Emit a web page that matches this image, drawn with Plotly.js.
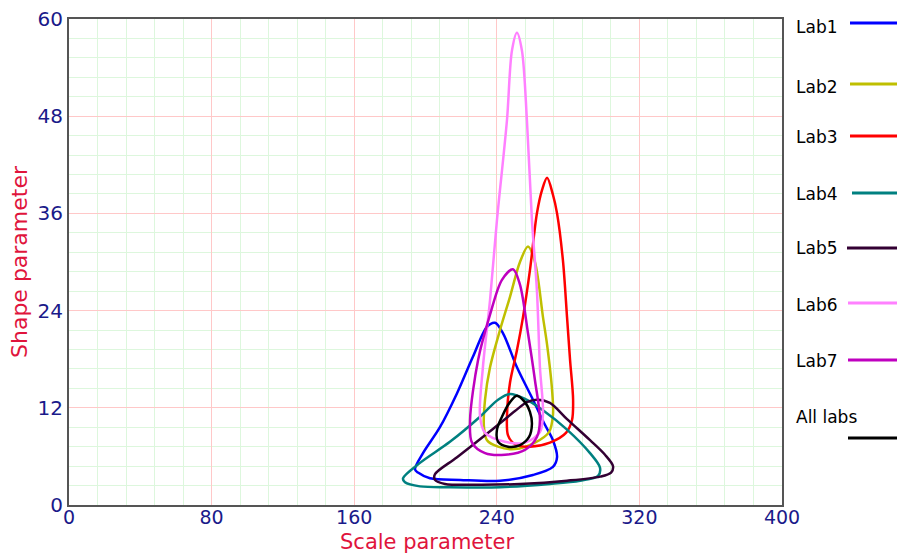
<!DOCTYPE html>
<html>
<head>
<meta charset="utf-8">
<script src="https://cdn.plot.ly/plotly-3.0.1.min.js"></script>
<style>html,body{margin:0;padding:0;background:#fff;}#chart{width:897px;height:556px;}</style>
</head>
<body>
<div id="chart"></div>
<script>
// Contour data (scale parameter, shape parameter)
const lab1X = [239.0,243.5,251.3,260.3,267.0,271.5,273.8,271.5,260.3,241.8,219.4,202.5,195.8,194.1,198.6,208.1,217.7,226.6,234.5];
const lab1Y = [22.5,21.2,17.0,13.0,9.9,8.0,5.9,4.7,3.7,3.0,3.1,3.3,4.0,4.4,6.4,9.6,13.8,18.3,22.0];

const lab2X = [257.5,261.4,265.9,268.2,271.0,271.5,269.3,261.4,250.2,240.7,234.5,232.8,233.4,236.2,241.8,247.4,253.0];
const lab2Y = [31.9,30.0,23.2,19.8,14.2,11.1,9.0,7.7,6.9,7.2,8.0,9.6,13.0,17.0,21.6,25.7,30.0];

const lab3X = [268.2,271.5,273.8,277.1,279.4,281.1,282.8,282.2,278.8,269.8,258.6,250.2,246.3,245.7,247.4,251.3,254.7,258.6,262.5,265.4];
const lab3Y = [40.4,38.3,36.0,30.2,23.2,17.9,13.0,10.5,8.9,7.7,7.2,7.5,8.6,10.9,15.1,19.1,23.2,29.0,36.0,38.9];

const lab4X = [247.4,255.8,265.9,279.4,292.3,297.9,296.8,286.7,269.8,241.8,213.7,196.9,188.5,187.4,196.9,213.7,230.6,240.7];
const lab4Y = [13.7,13.1,11.7,9.3,6.4,4.6,3.6,3.0,2.6,2.2,2.2,2.3,2.8,3.3,5.2,7.8,10.9,13.0];

const lab5X = [262.5,269.8,279.4,292.3,300.7,305.2,304.1,297.9,279.4,253.0,230.6,210.9,205.3,205.3,217.7,236.2,250.2,256.9];
const lab5Y = [13.0,12.6,10.6,8.0,6.2,4.8,4.0,3.5,3.0,2.6,2.5,2.6,3.1,3.8,5.9,9.1,11.6,12.7];

const lab6X = [251.3,254.1,256.9,259.7,262.5,264.2,265.9,264.2,255.8,244.6,233.4,230.6,232.2,236.2,240.1,245.7,248.5];
const lab6Y = [58.3,56.1,47.5,35.2,26.5,17.0,11.4,9.0,7.7,7.8,8.9,10.9,17.0,25.3,35.2,47.5,56.1];

const lab7X = [249.1,253.0,257.5,261.4,264.2,262.5,255.8,244.6,233.4,226.1,225.0,229.5,236.2,242.9];
const lab7Y = [29.1,27.2,21.2,15.4,10.5,8.4,6.8,6.2,6.4,7.7,10.5,17.9,23.5,27.8];

const allX = [251.3,255.8,258.6,259.7,258.1,253.0,246.3,240.7,240.1,242.9,247.4];
const allY = [13.5,12.7,11.5,10.0,8.4,7.4,7.2,7.8,9.3,10.9,12.7];

const seriesNames = ["Lab1","Lab2","Lab3","Lab4","Lab5","Lab6","Lab7","All labs"];
const seriesX = [lab1X,lab2X,lab3X,lab4X,lab5X,lab6X,lab7X,allX];
const seriesY = [lab1Y,lab2Y,lab3Y,lab4Y,lab5Y,lab6Y,lab7Y,allY];
const colors = ["#0000FF","#BFBF00","#FF0000","#008080","#330033","#FF80FF","#BF00BF","#000000"];

const xTicks = [0,80,160,240,320,400];
const yTicks = [0,12,24,36,48,60];
const xTitle = 'Scale parameter';
const yTitle = 'Shape parameter';

function close(a){ return a.concat([a[0]]); }

const traces = seriesNames.map((n,i)=>({
  x: close(seriesX[i]), y: close(seriesY[i]), name: n, type: 'scatter', mode: 'lines',
  line: {color: colors[i], width: 2.5, shape: 'spline', smoothing: 0.9},
  showlegend: false, hoverinfo: 'skip'
}));

// custom legend (paper coordinates)
const legTextY = [27,87,137,194,248,305,361,417];
const legLineY = [23,84,136,193,248,303,360,438];
const legLineX0 = [850,850,850,852,847,848,848,848];
const H = 556, W = 897, mL = 69, mR = 115, mT = 19, mB = 51;
const pw = W - mL - mR, ph = H - mT - mB;
function px2paperX(p){ return (p - mL)/pw; }
function px2paperY(p){ return (H - mB - p)/ph; }

const annotations = seriesNames.map((n,i)=>({
  xref:'paper', yref:'paper', x: px2paperX(794), y: px2paperY(legTextY[i]),
  xanchor:'left', yanchor:'middle', text: n, showarrow:false,
  font:{family:'DejaVu Sans, Verdana, sans-serif', size:17, color:'#000'}
}));
annotations.push({
  xref:'paper', yref:'paper', x: px2paperX(427), y: px2paperY(555),
  xanchor:'center', yanchor:'bottom', text: xTitle, showarrow:false, borderpad:0,
  font:{family:'DejaVu Sans, Verdana, sans-serif', size:21, color:'#E0143C'}
});
const shapes = seriesNames.map((n,i)=>({
  type:'line', xref:'paper', yref:'paper',
  x0: px2paperX(legLineX0[i]), x1: px2paperX(900), y0: px2paperY(legLineY[i]), y1: px2paperY(legLineY[i]),
  line:{color: colors[i], width: 3}
}));

const layout = {
  width: W, height: H,
  margin: {l: mL, r: mR, t: mT, b: mB, pad: 0},
  paper_bgcolor: '#fff', plot_bgcolor: '#fff',
  showlegend: false,
  font: {family: 'DejaVu Sans, Verdana, sans-serif'},
  xaxis: {
    range: [0,400], tickvals: xTicks, ticktext: xTicks.map(String),
    showgrid: true, gridcolor: '#FFC8C8', gridwidth: 1,
    minor: {dtick: 16, tick0: 0, showgrid: true, gridcolor: '#DDF7DD', gridwidth: 1},
    zeroline: false, showline: true, linecolor: '#555', linewidth: 2, mirror: true,
    ticks: '', tickfont: {size: 19, color: '#1a1a8a'}, ticklabelstandoff: -6,
    fixedrange: true
  },
  yaxis: {
    range: [0,60], tickvals: yTicks, ticktext: yTicks.map(String),
    showgrid: true, gridcolor: '#FFC8C8', gridwidth: 1,
    minor: {dtick: 2.4, tick0: 0, showgrid: true, gridcolor: '#DDF7DD', gridwidth: 1},
    zeroline: false, showline: true, linecolor: '#555', linewidth: 2, mirror: true,
    ticks: '', tickfont: {size: 20, color: '#1a1a8a'},
    title: {text: yTitle, font: {size: 22, color: '#E0143C'}, standoff: 4},
    fixedrange: true
  },
  annotations: annotations,
  shapes: shapes
};

Plotly.newPlot('chart', traces, layout, {displayModeBar: false, staticPlot: true});
</script>
</body>
</html>
